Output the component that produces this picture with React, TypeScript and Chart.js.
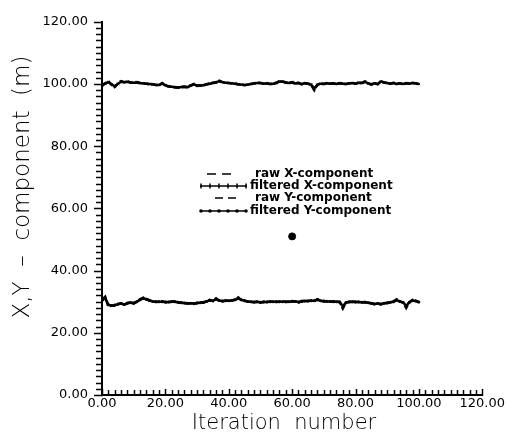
import React, { useEffect, useRef } from 'react';
import { Chart, registerables } from 'chart.js';

Chart.register(...registerables);

const iterations: number[] = Array.from({ length: 101 }, (_, i) => i);

const rawX = [
  99.4, 100.2, 100.9, 99.8, 99.0, 100.1, 100.9, 100.6, 100.8, 100.5,
  100.4, 100.6, 100.3, 100.2, 100.1, 99.9, 99.9, 99.7, 99.6, 100.3,
  99.5, 99.2, 99.1, 98.9, 98.8, 99.0, 99.1, 98.9, 99.6, 100.0,
  99.4, 99.5, 99.6, 99.9, 100.1, 100.4, 100.6, 101.1, 100.6, 100.4,
  100.3, 100.2, 100.1, 99.9, 99.8, 99.6, 99.8, 100.0, 100.2, 100.4,
  100.3, 100.1, 100.2, 100.0, 100.1, 100.4, 100.9, 100.8, 100.5, 100.3,
  100.6, 100.2, 100.4, 99.9, 100.3, 100.1, 99.7, 98.0, 99.8, 100.2,
  100.0, 100.3, 100.1, 100.2, 100.0, 100.3, 100.1, 100.0, 100.2, 100.4,
  100.1, 100.5, 100.3, 100.8, 100.2, 99.8, 100.3, 99.9, 100.9, 100.5,
  100.3, 100.1, 100.4, 100.0, 100.2, 100.0, 100.3, 100.1, 100.4, 100.2,
  99.9,
];

const filteredX = [
  99.6, 100.1, 100.6, 99.9, 99.3, 100.0, 100.7, 100.6, 100.7, 100.5,
  100.4, 100.5, 100.3, 100.2, 100.1, 100.0, 99.9, 99.7, 99.7, 100.1,
  99.6, 99.3, 99.1, 99.0, 98.9, 99.0, 99.1, 99.0, 99.5, 99.8,
  99.5, 99.5, 99.6, 99.9, 100.1, 100.3, 100.5, 100.9, 100.6, 100.4,
  100.3, 100.2, 100.1, 99.9, 99.8, 99.7, 99.8, 100.0, 100.2, 100.3,
  100.3, 100.1, 100.2, 100.0, 100.1, 100.3, 100.8, 100.7, 100.5, 100.3,
  100.5, 100.2, 100.3, 100.0, 100.2, 100.1, 99.8, 98.6, 99.7, 100.1,
  100.0, 100.2, 100.1, 100.2, 100.0, 100.2, 100.1, 100.0, 100.2, 100.3,
  100.1, 100.4, 100.3, 100.7, 100.2, 99.9, 100.2, 100.0, 100.8, 100.5,
  100.3, 100.1, 100.3, 100.0, 100.2, 100.0, 100.2, 100.1, 100.3, 100.2,
  100.0,
];

const rawY = [
  30.6, 31.6, 28.5, 28.7, 28.8, 29.3, 29.5, 28.9, 29.6, 29.8,
  29.4, 30.0, 30.8, 31.3, 30.9, 30.4, 30.1, 29.9, 30.0, 30.1,
  29.8, 29.9, 30.0, 30.1, 29.8, 29.7, 29.5, 29.4, 29.5, 29.3,
  29.6, 29.8, 29.7, 30.1, 30.6, 30.2, 31.1, 30.3, 30.1, 30.4,
  30.2, 30.5, 30.6, 31.4, 30.5, 30.3, 30.1, 29.9, 29.8, 30.0,
  29.7, 30.0, 29.9, 30.1, 30.0, 29.9, 30.0, 30.1, 29.9, 30.0,
  30.2, 30.1, 29.7, 30.2, 30.3, 30.2, 30.4, 30.3, 30.8, 30.3,
  30.1, 30.2, 30.0, 30.1, 30.0, 29.9, 27.8, 29.8, 30.0, 30.1,
  29.9, 30.0, 29.8, 29.9, 29.6, 29.5, 29.2, 29.4, 29.1, 29.5,
  29.7, 29.8, 30.1, 30.8, 30.0, 29.7, 28.0, 29.9, 30.6, 30.3,
  29.8,
];

const filteredY = [
  30.4, 31.2, 29.0, 28.8, 28.9, 29.2, 29.4, 29.1, 29.5, 29.7,
  29.6, 30.0, 30.6, 31.1, 30.8, 30.4, 30.1, 30.0, 30.0, 30.0,
  29.9, 29.9, 30.0, 30.0, 29.8, 29.7, 29.6, 29.5, 29.5, 29.4,
  29.6, 29.7, 29.8, 30.1, 30.4, 30.3, 30.8, 30.4, 30.2, 30.3,
  30.3, 30.4, 30.6, 31.0, 30.6, 30.3, 30.1, 30.0, 29.9, 30.0,
  29.8, 29.9, 29.9, 30.0, 30.0, 30.0, 30.0, 30.0, 30.0, 30.0,
  30.1, 30.1, 29.9, 30.1, 30.2, 30.2, 30.3, 30.3, 30.6, 30.3,
  30.2, 30.1, 30.1, 30.0, 30.0, 29.9, 28.6, 29.7, 29.9, 30.0,
  29.9, 29.9, 29.8, 29.8, 29.7, 29.5, 29.3, 29.4, 29.3, 29.5,
  29.6, 29.8, 30.0, 30.5, 30.1, 29.8, 28.7, 29.8, 30.4, 30.2,
  29.9,
];

const markerX = [60];
const markerY = [51];

const legendLabels = [
  'raw X-component',
  'filtered X-component',
  'raw Y-component',
  'filtered Y-component',
];

const xTitle = 'Iteration  number';
const yTitle = 'X,Y  \u2013  component  (m)';

const toPoints = (xs: number[], ys: number[]) => xs.map((x, i) => ({ x, y: ys[i] }));

const tickFont = { family: 'DejaVu Sans', size: 13 };

const axisTicksPlugin = {
  id: 'axisTicks',
  afterDraw(chart: any) {
    const ctx = chart.ctx;
    const xs = chart.scales.x;
    const ys = chart.scales.y;
    const left = chart.chartArea.left;
    const bottom = chart.chartArea.bottom;
    ctx.save();
    ctx.strokeStyle = '#000';
    ctx.lineWidth = 1.5;
    ctx.setLineDash([]);
    for (let v = 0; v <= 120; v += 2) {
      const major = v % 20 === 0;
      const py = Math.round(ys.getPixelForValue(v)) + 0.5;
      ctx.beginPath();
      ctx.moveTo(left - (major ? 8 : 6), py);
      ctx.lineTo(left + 1, py);
      ctx.stroke();
      const px = Math.round(xs.getPixelForValue(v)) + 0.5;
      ctx.beginPath();
      ctx.moveTo(px, bottom + 1);
      ctx.lineTo(px, bottom - (major ? 6 : 5));
      ctx.stroke();
    }
    // axis titles
    ctx.fillStyle = '#000';
    ctx.textAlign = 'center';
    ctx.textBaseline = 'middle';
    ctx.font = '200 21px "DejaVu Sans"';
    ctx.fillText(xTitle, 284, 424);
    ctx.save();
    ctx.translate(23, 187);
    ctx.rotate(-Math.PI / 2);
    ctx.font = '200 23px "DejaVu Sans"';
    ctx.fillText(yTitle, 0, 0);
    ctx.restore();
    ctx.restore();
  },
};

const legendPlugin = {
  id: 'centerLegend',
  afterDraw(chart: any) {
    const ctx = chart.ctx;
    ctx.save();
    ctx.fillStyle = '#000';
    ctx.strokeStyle = '#000';
    ctx.font = 'bold 12px "DejaVu Sans"';
    ctx.textBaseline = 'middle';
    const rows = [174, 186, 198, 211];
    const textX = [255, 250, 255, 250];
    legendLabels.forEach((lab, i) => ctx.fillText(lab, textX[i], rows[i]));
    ctx.lineWidth = 1.5;
    ctx.beginPath();
    ctx.moveTo(207, rows[0]); ctx.lineTo(216, rows[0]);
    ctx.moveTo(222, rows[0]); ctx.lineTo(231, rows[0]);
    ctx.moveTo(215, rows[2]); ctx.lineTo(223, rows[2]);
    ctx.moveTo(228, rows[2]); ctx.lineTo(236, rows[2]);
    ctx.moveTo(200, rows[1]); ctx.lineTo(247, rows[1]);
    ctx.moveTo(200, rows[3]); ctx.lineTo(247, rows[3]);
    ctx.stroke();
    ctx.beginPath();
    for (let k = 0; k < 6; k++) {
      const px = 201 + k * 9;
      ctx.moveTo(px, rows[1] - 2.5);
      ctx.lineTo(px, rows[1] + 2.5);
    }
    ctx.stroke();
    for (let k = 0; k < 6; k++) {
      const px = 201 + k * 9;
      ctx.beginPath();
      ctx.arc(px, rows[3], 1.8, 0, Math.PI * 2);
      ctx.fill();
    }
    ctx.restore();
  },
};

export default function App() {
  const canvasRef = useRef<HTMLCanvasElement | null>(null);

  useEffect(() => {
    if (!canvasRef.current) return;
    const chart = new Chart(canvasRef.current, {
      type: 'line',
      data: {
        datasets: [
          {
            label: legendLabels[0],
            data: toPoints(iterations, rawX),
            borderColor: '#000',
            borderWidth: 2.5,
            borderDash: [6, 2],
            pointRadius: 0,
            tension: 0,
          },
          {
            label: legendLabels[1],
            data: toPoints(iterations, filteredX),
            borderColor: '#000',
            backgroundColor: '#000',
            borderWidth: 2.5,
            pointStyle: 'crossRot',
            pointRadius: 1.6,
            pointBorderWidth: 1,
            tension: 0,
          },
          {
            label: legendLabels[2],
            data: toPoints(iterations, rawY),
            borderColor: '#000',
            borderWidth: 2.5,
            borderDash: [6, 2],
            pointRadius: 0,
            tension: 0,
          },
          {
            label: legendLabels[3],
            data: toPoints(iterations, filteredY),
            borderColor: '#000',
            backgroundColor: '#000',
            borderWidth: 2.5,
            pointStyle: 'circle',
            pointRadius: 1.5,
            pointBorderWidth: 0,
            tension: 0,
          },
          {
            label: 'marker',
            type: 'scatter' as any,
            data: toPoints(markerX, markerY),
            backgroundColor: '#000',
            borderColor: '#000',
            pointRadius: 3.5,
            showLine: false,
          } as any,
        ],
      },
      options: {
        animation: false,
        responsive: false,
        maintainAspectRatio: false,
        layout: { padding: { top: 13, right: 23, left: 0, bottom: 0 } },
        plugins: {
          legend: { display: false },
          tooltip: { enabled: false },
        },
        elements: { line: { fill: false } },
        scales: {
          x: {
            type: 'linear',
            min: 0,
            max: 120,
            grid: { display: false, drawTicks: false, tickLength: 0 },
            border: { display: true, color: '#000', width: 2 },
            afterFit: (s: any) => { s.height = 46; },
            ticks: {
              stepSize: 20,
              color: '#000',
              font: tickFont,
              padding: 1,
              maxRotation: 0,
              callback: (v: any) => Number(v).toFixed(2),
            },
            title: { display: false },
          },
          y: {
            type: 'linear',
            min: 0,
            max: 120,
            grid: { display: false, drawTicks: false, tickLength: 0 },
            border: { display: true, color: '#000', width: 2 },
            afterFit: (s: any) => { s.width = 102; },
            ticks: {
              stepSize: 20,
              color: '#000',
              font: tickFont,
              padding: 14,
              callback: (v: any) => Number(v).toFixed(2),
            },
            title: { display: false },
          },
        },
      },
      plugins: [axisTicksPlugin, legendPlugin],
    });
    return () => chart.destroy();
  }, []);

  return (
    <div style={{ position: 'fixed', left: 0, top: 0, width: 506, height: 441, background: '#fff' }}>
      <canvas ref={canvasRef} width={506} height={441} style={{ width: 506, height: 441 }} />
    </div>
  );
}
